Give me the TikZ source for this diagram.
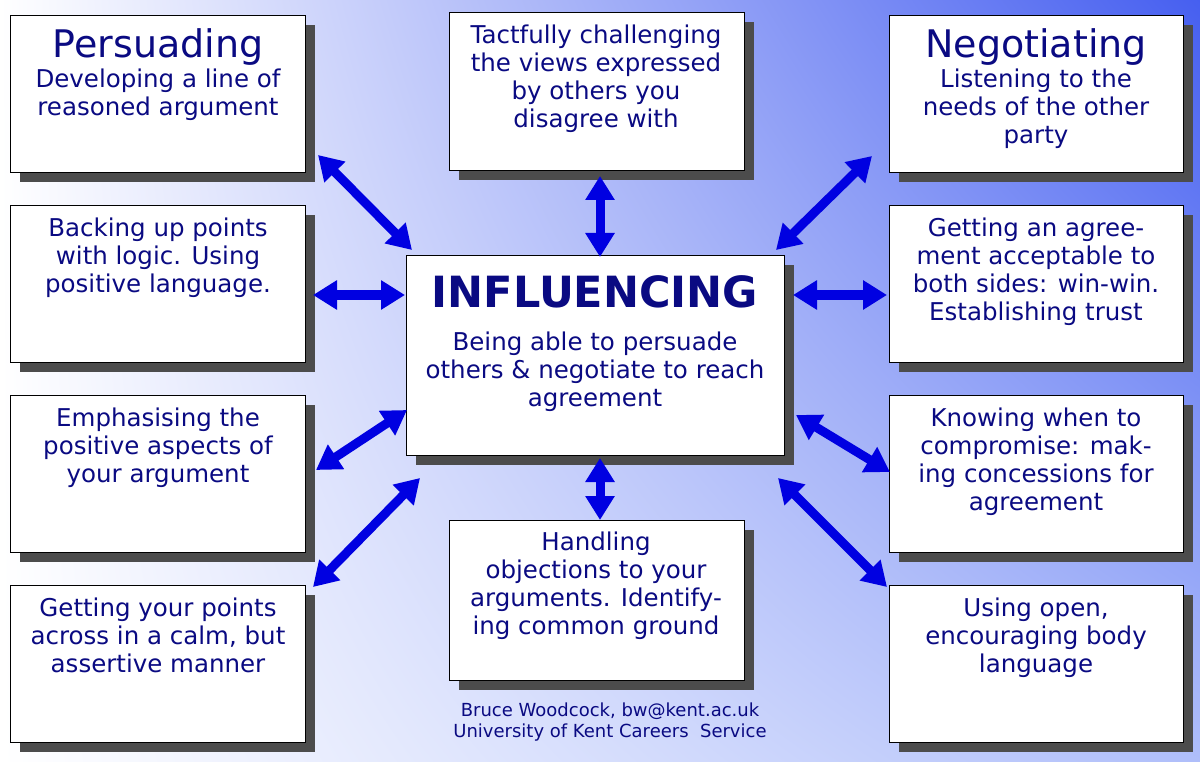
\documentclass[tikz,border=0pt]{standalone}
\usepackage{fontspec}
\setmainfont{DejaVu Sans}
\usetikzlibrary{arrows.meta,shadings,calc}
\definecolor{tx}{RGB}{10,10,130}
\definecolor{ar}{RGB}{0,0,225}
\definecolor{bgr}{RGB}{70,95,240}
\definecolor{bgl}{RGB}{175,190,250}
\begin{document}
\begin{tikzpicture}[x=1pt,y=-1pt,
 box/.style={draw=black,line width=1pt,fill=white,inner sep=0pt},
 txt/.style={text=tx,align=center,font=\fontsize{24.5}{28}\selectfont,inner sep=0pt,anchor=north},
 ttl/.style={text=tx,font=\fontsize{38}{40}\selectfont,inner sep=0pt},
 sh/.style={fill=black!70},
 arr/.style={ar,line width=9pt,{Triangle[length=24pt,width=28pt]}-{Triangle[length=24pt,width=28pt]}}]
\shade[upper left=white,lower left=white,upper right=bgr,lower right=bgl] (0,0) rectangle (1200,762);
\useasboundingbox (0,0) rectangle (1200,762);
\newcommand\bb[5]{%
 \fill[sh] (#2+10,#3+10) rectangle (#4+10,#5+10);
 \node[box,minimum width=#4-#2,minimum height=#5-#3,anchor=north west] (#1) at (#2,#3) {};}
\bb{p}{10}{15}{305}{172}
\bb{t}{449}{12}{744}{170}
\bb{n}{889}{15}{1183}{172}
\bb{b}{10}{205}{305}{362}
\bb{g}{889}{205}{1183}{362}
\bb{e}{10}{395}{305}{552}
\bb{k}{889}{395}{1183}{552}
\bb{gp}{10}{585}{305}{742}
\bb{h}{449}{520}{744}{680}
\bb{u}{889}{585}{1183}{742}
\bb{c}{406}{255}{784}{455}
\node[ttl] (pt) at (158,47) {Persuading};
\node[txt] (pb) at (158,69) {Developing a line of\\reasoned argument};
\node[ttl] (nt) at (1036,47) {Negotiating};
\node[txt] (nb) at (1036,69) {Listening to the\\needs of the other\\party};
\node[txt] (tb) at (596,25) {Tactfully challenging\\the views expressed\\by others you\\disagree with};
\node[txt] (bt) at (158,218) {Backing up points\\with logic. Using\\positive language.};
\node[txt] (gt) at (1036,218) {Getting an agree-\\ment acceptable to\\both sides: win-win.\\Establishing trust};
\node[txt] (et) at (158,408) {Emphasising the\\positive aspects of\\your argument};
\node[txt] (kt) at (1036,408) {Knowing when to\\compromise: mak-\\ing concessions for\\agreement};
\node[txt] (gpt) at (158,598) {Getting your points\\across in a calm, but\\assertive manner};
\node[txt] (ht) at (596,532) {Handling\\objections to your\\arguments. Identify-\\ing common ground};
\node[txt] (ut) at (1036,598) {Using open,\\encouraging body\\language};
\node[text=tx,font=\fontsize{43}{45}\selectfont\bfseries,inner sep=0pt] (ct) at (595,292) {INFLUENCING};
\node[txt] (cb) at (595,332) {Being able to persuade\\others \& negotiate to reach\\agreement};
\node[text=tx,align=center,font=\fontsize{18}{21}\selectfont] (cr) at (610,722) {Bruce Woodcock, bw@kent.ac.uk\\University of Kent Careers\ \ Service};
\foreach \a/\b/\c/\d [count=\i] in {318/155/412/250, 600/176/600/257, 872/156/776/250, 313/295/405/295, 793/295/887/295, 316/470/407/410, 796/415/890/472, 313/587/420/478, 600/458/600/520, 778/478/887/587}
 {\coordinate (s\i) at (\a,\b); \coordinate (e\i) at (\c,\d); \draw[arr] (s\i) -- (e\i);}
\end{tikzpicture}
\end{document}
